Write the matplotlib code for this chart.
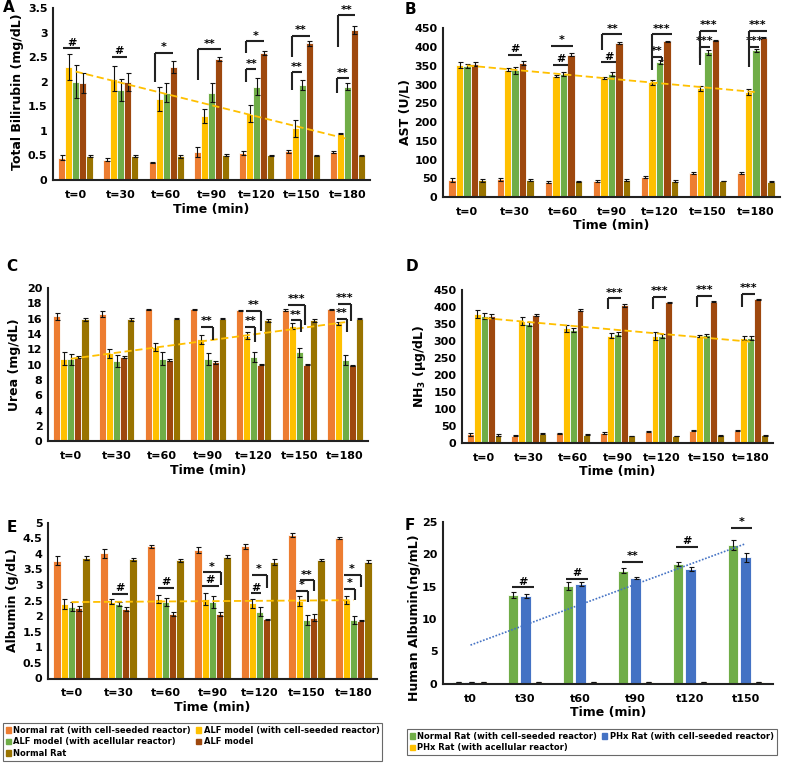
import numpy as np
import matplotlib
matplotlib.use("Agg")
import matplotlib.pyplot as plt
from matplotlib.ticker import FuncFormatter, MultipleLocator
from matplotlib.patches import Patch

plt.rcParams['font.family'] = ['DejaVu Sans']
plt.rcParams['font.weight'] = 'bold'

# ---------------- data ----------------
time_labels = ["t=0", "t=30", "t=60", "t=90", "t=120", "t=150", "t=180"]
series_names = ["Normal rat (with cell-seeded reactor)", "ALF model (with cell-seeded reactor)",
                "ALF model (with acellular reactor)", "ALF model", "Normal Rat"]

# Panel A: Total bilirubin (mg/dL)
bili_normal_seeded = [0.45, 0.41, 0.36, 0.57, 0.55, 0.58, 0.57]
bili_alf_seeded    = [2.30, 2.06, 1.65, 1.30, 1.35, 1.05, 0.94]
bili_alf_acell     = [2.00, 1.83, 1.78, 1.78, 1.90, 1.93, 1.90]
bili_alf           = [1.97, 2.00, 2.30, 2.46, 2.58, 2.78, 3.05]
bili_normal        = [0.48, 0.48, 0.48, 0.50, 0.50, 0.50, 0.50]
bili_err = [[0.05, 0.03, 0.01, 0.10, 0.04, 0.04, 0.02],
            [0.27, 0.25, 0.25, 0.15, 0.17, 0.17, 0.01],
            [0.33, 0.22, 0.20, 0.20, 0.17, 0.10, 0.07],
            [0.20, 0.18, 0.13, 0.04, 0.04, 0.05, 0.08],
            [0.02, 0.02, 0.03, 0.02, 0.01, 0.01, 0.01]]

# Panel B: AST (U/L)
ast_normal_seeded = [45, 47, 40, 43, 53, 65, 64]
ast_alf_seeded    = [352, 340, 322, 317, 306, 290, 280]
ast_alf_acell     = [350, 338, 328, 328, 360, 386, 392]
ast_alf           = [354, 357, 380, 410, 415, 418, 425]
ast_normal        = [45, 45, 42, 45, 43, 43, 41]
ast_err = [[5, 5, 2, 2, 2, 3, 3],
           [7, 5, 3, 2, 6, 6, 7],
           [5, 9, 6, 5, 5, 6, 4],
           [5, 6, 3, 3, 2, 2, 1],
           [4, 2, 1, 3, 2, 1, 1]]

# Panel C: Urea (mg/dL)
urea_normal_seeded = [16.3, 16.6, 17.2, 17.2, 17.1, 17.1, 17.2]
urea_alf_seeded    = [10.8, 11.5, 12.3, 13.3, 13.8, 15.0, 15.4]
urea_alf_acell     = [10.7, 10.5, 10.8, 10.7, 11.0, 11.6, 10.6]
urea_alf           = [11.0, 11.0, 10.6, 10.3, 10.0, 10.0, 9.9]
urea_normal        = [15.9, 15.9, 16.0, 16.0, 15.8, 15.8, 16.0]
urea_err = [[0.5, 0.4, 0.05, 0.05, 0.05, 0.1, 0.05],
            [0.8, 0.6, 0.5, 0.6, 0.4, 0.4, 0.2],
            [0.7, 0.8, 0.8, 0.8, 0.7, 0.6, 0.6],
            [0.1, 0.1, 0.1, 0.15, 0.05, 0.05, 0.1],
            [0.2, 0.2, 0.1, 0.1, 0.2, 0.2, 0.1]]

# Panel D: NH3 (ug/dL)
nh3_normal_seeded = [25, 22, 28, 28, 33, 36, 36]
nh3_alf_seeded    = [378, 358, 337, 315, 313, 313, 308]
nh3_alf_acell     = [372, 349, 332, 320, 314, 316, 307]
nh3_alf           = [372, 376, 390, 404, 413, 415, 421]
nh3_normal        = [24, 27, 24, 21, 21, 23, 23]
nh3_err = [[3, 2, 2, 3, 2, 2, 2],
           [12, 13, 10, 8, 12, 3, 5],
           [8, 6, 6, 6, 5, 5, 6],
           [5, 3, 3, 4, 2, 2, 1],
           [2, 2, 1, 1, 1, 1, 1]]

# Panel E: Albumin (g/dL)
alb_normal_seeded = [3.78, 4.02, 4.25, 4.13, 4.25, 4.61, 4.52]
alb_alf_seeded    = [2.39, 2.47, 2.55, 2.55, 2.41, 2.49, 2.52]
alb_alf_acell     = [2.31, 2.39, 2.46, 2.46, 2.15, 1.88, 1.88]
alb_alf           = [2.25, 2.23, 2.07, 2.07, 1.90, 1.95, 1.86]
alb_normal        = [3.86, 3.83, 3.80, 3.91, 3.75, 3.80, 3.75]
alb_err = [[0.15, 0.15, 0.05, 0.10, 0.08, 0.06, 0.03],
           [0.15, 0.08, 0.12, 0.18, 0.15, 0.15, 0.12],
           [0.15, 0.07, 0.12, 0.20, 0.15, 0.15, 0.12],
           [0.08, 0.05, 0.07, 0.05, 0.02, 0.12, 0.01],
           [0.07, 0.05, 0.05, 0.05, 0.10, 0.03, 0.05]]

# Panel F: Human albumin (ng/mL)
f_labels = ["t0", "t30", "t60", "t90", "t120", "t150"]
f_names = ["Normal Rat (with cell-seeded reactor)", "PHx Rat (with cell-seeded reactor)",
           "PHx Rat (with acellular reactor)"]
hal_normal_seeded = [0.3, 13.7, 15.1, 17.45, 18.5, 21.4]
hal_phx_seeded    = [0.3, 13.55, 15.4, 16.3, 17.7, 19.5]
hal_phx_acell     = [0.3, 0.3, 0.3, 0.3, 0.3, 0.3]
hal_err = [[0.05, 0.4, 0.6, 0.35, 0.35, 0.75],
           [0.05, 0.25, 0.3, 0.1, 0.35, 0.75],
           [0.05, 0.05, 0.05, 0.05, 0.05, 0.05]]

# significance annotations: (group, x-start offset, x-end offset, y, left drop, right drop, label)
ann_A = [(0, -0.27, 0.09, 2.68, None, None, '#'), (1, -0.20, 0.13, 2.50, None, None, '#'),
         (2, -0.25, 0.14, 2.59, 2.00, None, '*'), (3, -0.29, 0.20, 2.66, 2.04, None, '**'),
         (4, -0.23, 0.16, 2.82, 2.58, None, '*'), (4, -0.24, -0.01, 2.25, 2.00, None, '**'),
         (5, -0.23, 0.18, 2.93, 2.51, None, '**'), (5, -0.23, -0.01, 2.19, 1.83, None, '**'),
         (6, -0.21, 0.16, 3.35, 2.71, None, '**'), (6, -0.23, 0.03, 2.07, 1.77, None, '**')]
ann_B = [(1, -0.16, 0.14, 379, None, None, '#'), (2, -0.26, 0.19, 404, None, None, '*'),
         (2, -0.22, 0.10, 352, None, None, '#'), (3, -0.19, 0.22, 434, 392, None, '**'),
         (3, -0.21, 0.10, 359, None, None, '#'), (4, -0.16, 0.25, 434, 339, None, '***'),
         (4, -0.16, 0.05, 373, None, 361, '**'), (5, -0.16, 0.19, 443, 370, None, '***'),
         (5, -0.16, 0.04, 401, 352, None, '***'), (6, -0.14, 0.22, 443, 348, None, '***'),
         (6, -0.14, 0.07, 401, None, None, '***')]
ann_C = [(3, -0.16, 0.12, 14.9, None, 13.2, '**'), (4, -0.17, 0.16, 17.05, None, 14.4, '**'),
         (4, -0.18, 0.03, 14.95, None, 13.0, '**'), (5, -0.24, 0.12, 17.8, None, 15.2, '***'),
         (5, -0.19, 0.03, 15.8, None, 14.2, '**'), (6, -0.16, 0.13, 17.9, None, 15.7, '***'),
         (6, -0.18, 0.04, 16.0, None, 14.3, '**')]
ann_D = [(3, -0.22, 0.09, 424.5, 392, None, '***'), (4, -0.21, 0.09, 429, 392, None, '***'),
         (5, -0.21, 0.13, 432, 398, None, '***'), (6, -0.20, 0.10, 437, 398, None, '***')]
ann_E = [(1, -0.13, 0.20, 2.71, None, None, '#'), (2, -0.17, 0.18, 2.90, None, None, '#'),
         (3, -0.20, 0.18, 3.41, None, 3.00, '*'), (3, -0.22, 0.13, 2.98, None, None, '#'),
         (4, -0.17, 0.15, 3.32, None, 2.90, '*'), (4, -0.19, 0.03, 2.73, None, None, '#'),
         (5, -0.14, 0.15, 3.15, None, 2.80, '**'), (5, -0.23, 0.03, 2.82, None, 2.44, '*'),
         (6, -0.21, 0.15, 3.32, None, 2.95, '*'), (6, -0.21, 0.03, 2.87, None, 2.51, '*')]
ann_F = [(1, -0.24, 0.16, 14.9, None, None, '#'), (2, -0.27, 0.13, 16.2, None, None, '#'),
         (3, -0.25, 0.14, 18.8, None, None, '**'), (4, -0.26, 0.13, 21.1, None, None, '#'),
         (5, -0.27, 0.12, 24.0, None, None, '*')]

# ---------------- style ----------------
C5 = ['#ED7D31', '#FFC000', '#70AD47', '#9E480E', '#997300']
C3 = ['#70AD47', '#4472C4', '#FFC000']
W, H = 787, 763
fig = plt.figure(figsize=(W / 100, H / 100), dpi=100)


def make_ax(left, right, top, bottom):
    ax = fig.add_axes([left / W, 1 - bottom / H, (right - left) / W, (bottom - top) / H])
    ax._px = (left, right, top, bottom)
    return ax


fmt = FuncFormatter(lambda v, p: ('%g' % v))


def style(ax, ymax, step, xlabels, ylabel, ylab_right_px, ylab_center_py):
    ax.set_ylim(0, ymax)
    ax.yaxis.set_major_locator(MultipleLocator(step))
    ax.yaxis.set_major_formatter(fmt)
    for s in ['top', 'right']:
        ax.spines[s].set_visible(False)
    for s in ['left', 'bottom']:
        ax.spines[s].set_linewidth(1.5)
        ax.spines[s].set_color('#222222')
    ax.set_xticks(np.arange(len(xlabels)))
    ax.set_xticklabels(xlabels)
    ax.set_xlim(-0.5, len(xlabels) - 0.5)
    ax.tick_params(axis='both', length=0, labelsize=8)
    ax.tick_params(axis='x', pad=7)
    ax.tick_params(axis='y', pad=4)
    for lab in ax.get_xticklabels() + ax.get_yticklabels():
        lab.set_fontweight('bold')
    ax.set_xlabel('Time (min)', fontsize=9, fontweight='bold', labelpad=2)
    ax.set_ylabel(ylabel, fontsize=9, fontweight='bold')
    l, r, t, b = ax._px
    ax.yaxis.set_label_coords((ylab_right_px - l) / (r - l), (b - ylab_center_py) / (b - t))


def bars5(ax, series, errs):
    x = np.arange(len(time_labels))
    w = 0.155
    for i, (vals, err) in enumerate(zip(series, errs)):
        ax.bar(x + (i - 2) * w, vals, w, color=C5[i], edgecolor='white', linewidth=0.6,
               yerr=err, capsize=1.8, error_kw=dict(elinewidth=0.8, capthick=0.8, ecolor='#111111'),
               label=series_names[i], zorder=2)


def trend(ax, vals, color, ls, lw):
    x = np.arange(len(vals))
    k, b0 = np.polyfit(x, vals, 1)
    xx = np.array([x[0], x[-1]])
    ax.plot(xx, k * xx + b0, color=color, ls=ls, lw=lw, zorder=3)


def sig(ax, anns, fs=8):
    for g, x0, x1, y, ld, rd, lab in anns:
        xa, xb = g + x0, g + x1
        kw = dict(color='#222222', lw=1.5, clip_on=False, zorder=4, solid_capstyle='butt')
        ax.plot([xa, xb], [y, y], **kw)
        if ld is not None:
            ax.plot([xa, xa], [y, ld], **kw)
        if rd is not None:
            ax.plot([xb, xb], [y, rd], **kw)
        ax.annotate(lab, ((xa + xb) / 2, y), xytext=(0, 0.5), textcoords='offset points',
                    ha='center', va='bottom', fontsize=fs, fontweight='bold', annotation_clip=False)


DASH = (0, (4, 2))

# Panel A
axA = make_ax(53, 370, 8, 180)
bars5(axA, [bili_normal_seeded, bili_alf_seeded, bili_alf_acell, bili_alf, bili_normal], bili_err)
trend(axA, bili_alf_seeded, '#FFC000', DASH, 1.3)
style(axA, 3.5, 0.5, time_labels, 'Total Bilirubin (mg/dL)', 24, 92)
sig(axA, ann_A)

# Panel B
axB = make_ax(443, 780, 28.3, 197)
bars5(axB, [ast_normal_seeded, ast_alf_seeded, ast_alf_acell, ast_alf, ast_normal], ast_err)
trend(axB, ast_alf_seeded, '#FFC000', DASH, 1.3)
style(axB, 450, 50, time_labels, 'AST (U/L)', 411, 112)
sig(axB, ann_B)

# Panel C
axC = make_ax(48, 368, 288, 441.4)
bars5(axC, [urea_normal_seeded, urea_alf_seeded, urea_alf_acell, urea_alf, urea_normal], urea_err)
trend(axC, urea_alf_seeded, '#FFC000', DASH, 1.3)
style(axC, 20, 2, time_labels, 'Urea (mg/dL)', 21, 365)
sig(axC, ann_C)

# Panel D
axD = make_ax(462, 773, 289.6, 443)
bars5(axD, [nh3_normal_seeded, nh3_alf_seeded, nh3_alf_acell, nh3_alf, nh3_normal], nh3_err)
trend(axD, nh3_alf_seeded, '#FFC000', DASH, 1.3)
style(axD, 450, 50, time_labels, 'NH$_\\mathbf{3}$ (μg/dL)', 428, 366)
sig(axD, ann_D)

# Panel E
axE = make_ax(48, 377, 522.7, 678.5)
bars5(axE, [alb_normal_seeded, alb_alf_seeded, alb_alf_acell, alb_alf, alb_normal], alb_err)
trend(axE, alb_alf_seeded, '#FFC000', DASH, 1.3)
style(axE, 5, 0.5, time_labels, 'Albumin (g/dL)', 19, 600)
sig(axE, ann_E)

# Panel F
axF = make_ax(443, 773, 521.7, 683.9)
xF = np.arange(len(f_labels))
wF, dF = 0.19, 0.232
for i, (vals, err) in enumerate(zip([hal_normal_seeded, hal_phx_seeded, hal_phx_acell], hal_err)):
    axF.bar(xF + (i - 1) * dF, vals, wF, color=C3[i], edgecolor='white', linewidth=0.6,
            yerr=err, capsize=1.8, error_kw=dict(elinewidth=0.8, capthick=0.8, ecolor='#111111'),
            zorder=2)
trend(axF, hal_phx_seeded, '#4472C4', (0, (1, 1)), 1.2)
style(axF, 25, 5, f_labels, 'Human Albumin(ng/mL)', 421, 618)
sig(axF, ann_F)

# Panel letters
for txt, x, y in [('A', 9, 8), ('B', 410, 9), ('C', 12, 267), ('D', 412, 267), ('E', 12, 527), ('F', 410, 526)]:
    fig.text(x / W, 1 - y / H, txt, fontsize=11, fontweight='bold', ha='center', va='center')

# Legends
patches5 = [Patch(color=c) for c in C5]
order = [0, 2, 4, 1, 3]
legE = fig.legend([patches5[i] for i in order], [series_names[i] for i in order],
                  loc='upper left', bbox_to_anchor=(3 / W, 1 - 723 / H), ncol=2,
                  fontsize=6.0, frameon=True, fancybox=False, edgecolor='#444444',
                  handlelength=0.6, handleheight=0.6, handletextpad=0.3, columnspacing=0.6,
                  labelspacing=0.3, borderpad=0.35, borderaxespad=0)
legE.get_frame().set_linewidth(0.8)
for t in legE.get_texts():
    t.set_fontweight('bold')

patches3 = [Patch(color=c) for c in C3]
orderF = [0, 2, 1]
legF = fig.legend([patches3[i] for i in orderF], [f_names[i] for i in orderF],
                  loc='upper left', bbox_to_anchor=(407 / W, 1 - 729 / H), ncol=2,
                  fontsize=6.0, frameon=True, fancybox=False, edgecolor='#444444',
                  handlelength=0.6, handleheight=0.6, handletextpad=0.3, columnspacing=0.6,
                  labelspacing=0.3, borderpad=0.35, borderaxespad=0)
legF.get_frame().set_linewidth(0.8)
for t in legF.get_texts():
    t.set_fontweight('bold')

fig.savefig('out.png', dpi=100, facecolor='white')
